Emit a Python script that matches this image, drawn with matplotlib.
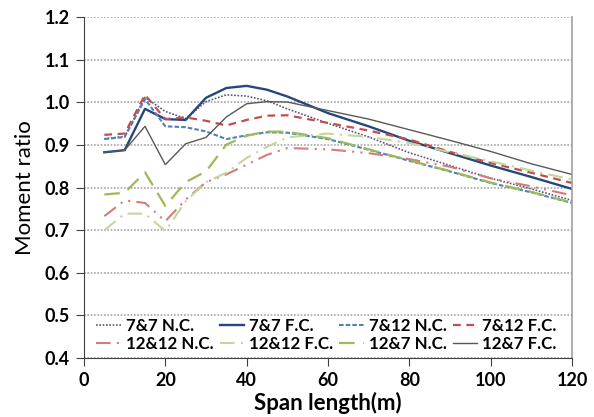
import matplotlib
matplotlib.use('Agg')
import matplotlib.pyplot as plt

plt.rcParams['font.family'] = ['Lato', 'DejaVu Sans']

# Span lengths, m
span = [5, 10, 15, 20, 25, 30, 35, 40, 45, 50, 60, 70, 80, 90, 100, 110, 120]

# Moment ratios for each girder combination
r77_nc = [0.915, 0.920, 1.012, 0.979, 0.962, 1.002, 1.018, 1.015, 1.004, 0.985,
          0.951, 0.919, 0.882, 0.852, 0.822, 0.797, 0.770]
r77_fc = [0.883, 0.888, 0.985, 0.961, 0.959, 1.011, 1.034, 1.039, 1.030, 1.014,
          0.975, 0.944, 0.910, 0.881, 0.852, 0.825, 0.797]
r712_nc = [0.914, 0.919, 1.008, 0.944, 0.942, 0.932, 0.914, 0.923, 0.930, 0.929,
           0.914, 0.889, 0.863, 0.838, 0.811, 0.789, 0.764]
r712_fc = [0.924, 0.927, 1.018, 0.961, 0.965, 0.957, 0.946, 0.959, 0.969, 0.970,
           0.952, 0.934, 0.913, 0.884, 0.858, 0.835, 0.811]
r1212_nc = [0.733, 0.770, 0.764, 0.721, 0.772, 0.813, 0.831, 0.854, 0.877, 0.893,
            0.890, 0.881, 0.867, 0.849, 0.822, 0.803, 0.782]
r1212_fc = [0.700, 0.739, 0.739, 0.698, 0.768, 0.813, 0.835, 0.870, 0.896, 0.918,
            0.927, 0.919, 0.905, 0.883, 0.862, 0.840, 0.819]
r127_nc = [0.784, 0.788, 0.836, 0.757, 0.813, 0.838, 0.901, 0.922, 0.932, 0.931,
           0.916, 0.890, 0.864, 0.839, 0.812, 0.790, 0.765]
r127_fc = [0.883, 0.888, 0.944, 0.854, 0.903, 0.918, 0.966, 0.997, 1.002, 1.001,
           0.981, 0.961, 0.936, 0.911, 0.885, 0.856, 0.831]

labels = ['7&7 N.C.', '7&7 F.C.', '7&12 N.C.', '7&12 F.C.',
          '12&12 N.C.', '12&12 F.C.', '12&7 N.C.', '12&7 F.C.']
series = [r77_nc, r77_fc, r712_nc, r712_fc, r1212_nc, r1212_fc, r127_nc, r127_fc]

colors = ['#5e5478', '#27477a', '#4f81bd', '#c0504d',
          '#d77b79', '#c3d69b', '#9bbb59', '#595959']
styles = [(0, (1, 1)), '-', (0, (2.2, 1)), (0, (3.5, 2.5)),
          (0, (7, 3, 1, 3, 1, 3)), (0, (7, 3, 1, 3)), (0, (7, 4)), '-']
widths = [1.2, 1.7, 1.5, 1.6, 1.5, 1.5, 1.6, 1.0]

fig = plt.figure(figsize=(5.94, 4.17), dpi=100)
ax = fig.add_axes([0.1414, 0.1415, 0.8216, 0.817])

lines = []
for y, lab, c, ls, lw in zip(series, labels, colors, styles, widths):
    ln, = ax.plot(span, y, color=c, linestyle=ls, linewidth=lw, label=lab)
    lines.append(ln)

ax.set_xlim(0, 120)
ax.set_ylim(0.4, 1.2)
ax.set_xticks(range(0, 121, 20))
ax.set_yticks([0.4, 0.5, 0.6, 0.7, 0.8, 0.9, 1.0, 1.1, 1.2])
ax.set_yticklabels(['%.1f' % v for v in ax.get_yticks()])

ax.grid(axis='y', linestyle=(0, (1, 1)), color='#a6a6a6', linewidth=1.2)
ax.set_axisbelow(True)

ax.spines['top'].set_visible(False)
ax.spines['left'].set_color('#404040')
ax.spines['bottom'].set_color('#404040')
ax.spines['right'].set_color('#a0a0a0')
ax.spines['right'].set_linewidth(1.2)

ax.tick_params(axis='both', direction='out', length=6, color='#404040',
               labelsize=13, pad=4)
for t in ax.get_xticklabels() + ax.get_yticklabels():
    t.set_fontweight('bold')

ax.set_xlabel('Span length(m)', fontsize=16, fontweight='bold', labelpad=2)
ax.set_ylabel('Moment ratio', fontsize=16, labelpad=7)

# row-major ordering for a 4-column legend
order = [0, 4, 1, 5, 2, 6, 3, 7]
leg = ax.legend([lines[i] for i in order], [labels[i] for i in order],
                ncol=4, loc='center', bbox_to_anchor=(0.497, 0.068),
                frameon=False, handlelength=1.45, handletextpad=0.3,
                columnspacing=0.35, labelspacing=0.1,
                prop={'weight': 'bold', 'size': 12.2})

fig.savefig('out.png', dpi=100)
